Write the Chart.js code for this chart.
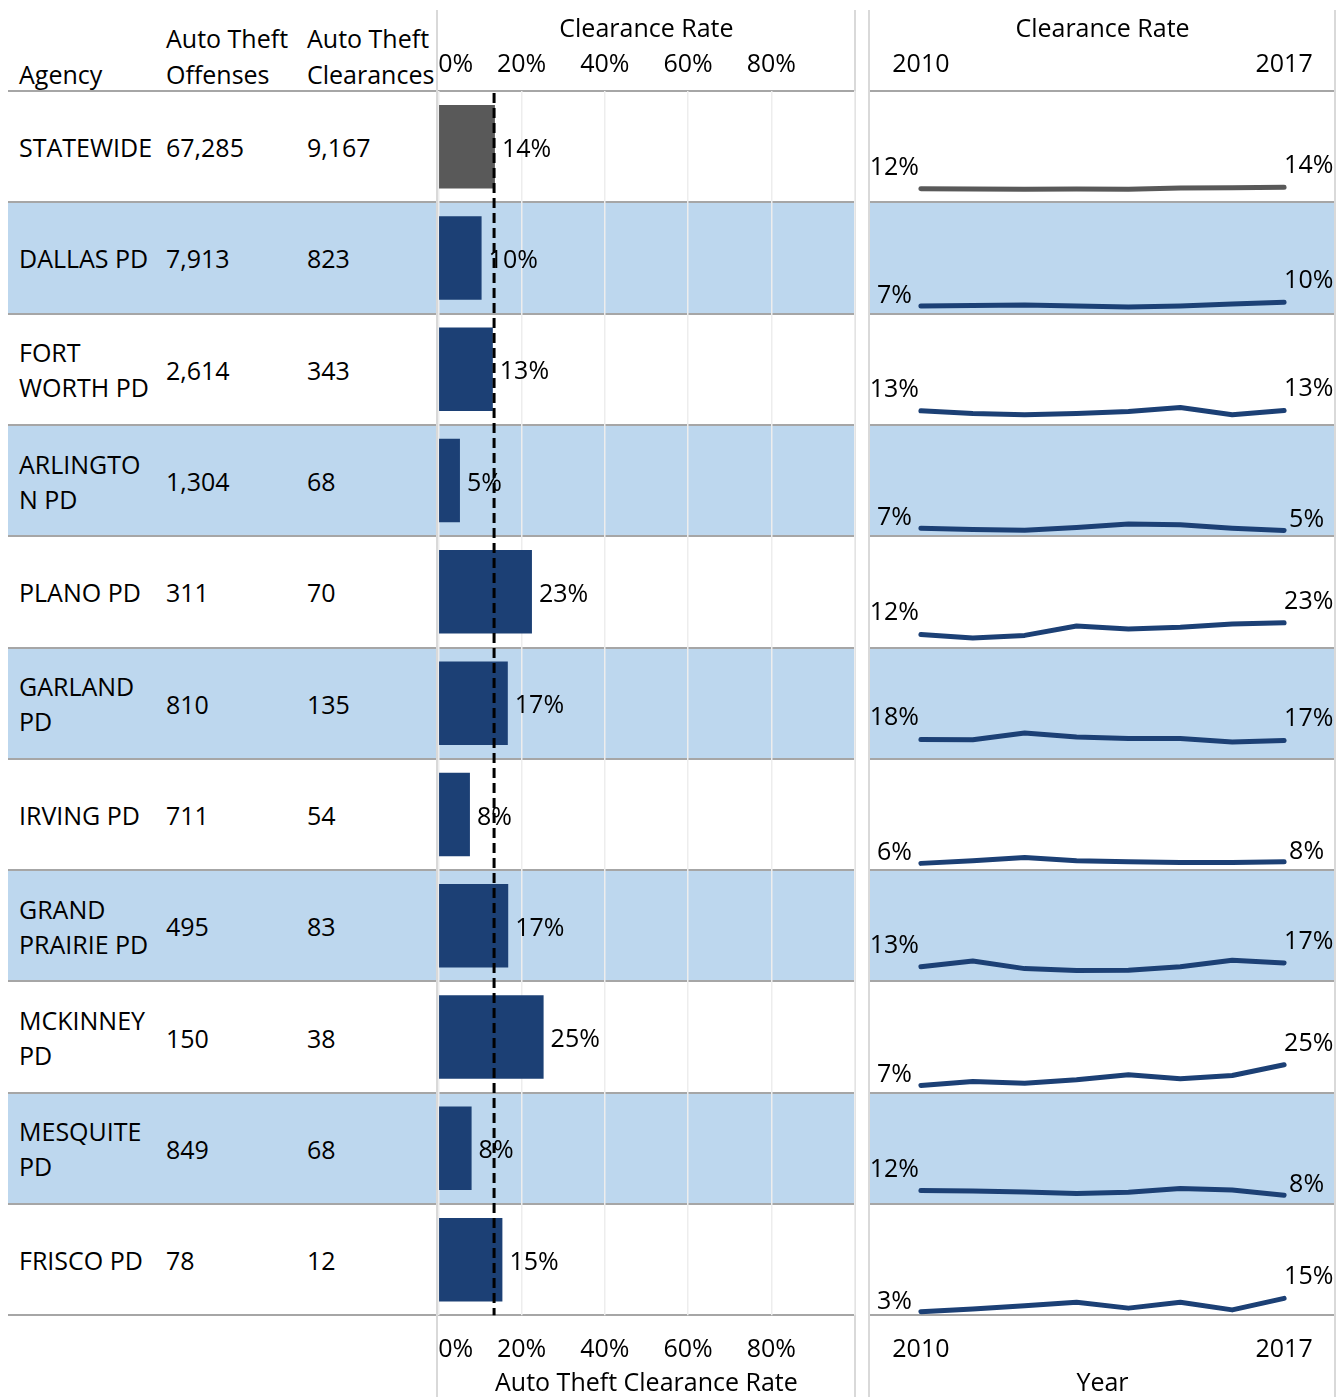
<!DOCTYPE html>
<html>
<head>
<meta charset="utf-8">
<script src="https://cdn.jsdelivr.net/npm/chart.js@4.4.1/dist/chart.umd.min.js"></script>
<style>
body{margin:0;background:#fff;font-family:"Open Sans",sans-serif;color:#000;}
#page{position:relative;width:1341px;height:1397px;overflow:hidden;}
.band{position:absolute;background:#bdd7ee;}
.hline{position:absolute;height:2px;background:#a6a6a6;}
.vline{position:absolute;width:2px;background:#d9d9d9;top:10px;bottom:0;}
.cell{position:absolute;display:flex;align-items:center;font-size:25px;line-height:35px;white-space:pre;padding-top:2px;box-sizing:border-box;}
.head{position:absolute;font-size:25px;line-height:36px;white-space:pre;}
.wrap{position:absolute;top:0;}
</style>
</head>
<body>
<div id="page">
  <div id="table"></div>
  <div class="wrap" style="left:418px;"><canvas id="barChart" width="457" height="1397"></canvas></div>
  <div class="wrap" style="left:869px;"><canvas id="trendChart" width="467" height="1397"></canvas></div>
</div>
<script>

/* ==========================================
   DATA
========================================== */

const agencies = [
    "STATEWIDE",
    "DALLAS PD",
    "FORT\nWORTH PD",
    "ARLINGTO\nN PD",
    "PLANO PD",
    "GARLAND\nPD",
    "IRVING PD",
    "GRAND\nPRAIRIE PD",
    "MCKINNEY\nPD",
    "MESQUITE\nPD",
    "FRISCO PD"
];

const offenses   = ["67,285","7,913","2,614","1,304","311","810","711","495","150","849","78"];
const clearances = ["9,167","823","343","68","70","135","54","83","38","68","12"];

// clearance rate (%) per agency
const clearanceRate = [13.6, 10.4, 13.1, 5.2, 22.5, 16.7, 7.6, 16.8, 25.3, 8.0, 15.4];
const statewideRate = 13.4;
const rateTicks = [0, 20, 40, 60, 80, 100];

const years = [2010, 2011, 2012, 2013, 2014, 2015, 2016, 2017];

// yearly clearance rate (%) 2010 -> 2017
const trendStatewide    = [12.4, 12.1, 11.8, 12.1, 11.8, 13.0, 13.3, 13.6];
const trendDallas       = [6.8, 7.4, 7.7, 6.8, 5.9, 6.8, 8.6, 10.4];
const trendFortWorth    = [12.8, 10.4, 9.2, 10.4, 12.2, 15.8, 9.2, 13.1];
const trendArlington    = [7.3, 6.1, 5.5, 7.9, 11.0, 10.4, 7.3, 5.2];
const trendPlano        = [11.9, 8.6, 11.0, 19.5, 16.7, 18.3, 21.3, 22.5];
const trendGarland      = [17.6, 17.3, 23.4, 19.7, 18.5, 18.5, 15.2, 16.7];
const trendIrving       = [6.1, 8.5, 11.5, 8.5, 7.6, 7.0, 7.0, 7.6];
const trendGrandPrairie = [13.3, 18.6, 11.6, 9.8, 10.1, 13.2, 19.2, 16.8];
const trendMcKinney     = [6.6, 10.2, 8.6, 11.7, 16.2, 12.6, 15.6, 25.3];
const trendMesquite     = [12.2, 11.9, 11.0, 9.5, 10.7, 14.0, 12.8, 8.0];
const trendFrisco       = [3.3, 5.8, 8.7, 11.9, 6.5, 11.9, 4.9, 15.4];

const trends = [
    trendStatewide, trendDallas, trendFortWorth, trendArlington, trendPlano,
    trendGarland, trendIrving, trendGrandPrairie, trendMcKinney, trendMesquite, trendFrisco
];

/* ==========================================
   LAYOUT / STYLE
========================================== */

const TOP = 91;
const ROW_H = 111.3;
const BOTTOM = TOP + ROW_H * agencies.length;
const PAGE_H = 1397;

const FONT = "'Open Sans', sans-serif";
const NAVY = "#1c4075";
const GREY = "#595959";

/* ==========================================
   TABLE (html)
========================================== */

function buildTable(){

    const t = document.getElementById("table");
    let html = "";

    agencies.forEach((name,i)=>{

        const y = TOP + i*ROW_H;

        if(i % 2 === 1){
            html += `<div class="band" style="left:8px;width:847px;top:${y}px;height:${ROW_H}px"></div>`;
            html += `<div class="band" style="left:869px;width:466px;top:${y}px;height:${ROW_H}px"></div>`;
        }

        html += `<div class="cell" style="left:19px;width:145px;top:${y}px;height:${ROW_H}px">${name}</div>`;
        html += `<div class="cell" style="left:166px;top:${y}px;height:${ROW_H}px">${offenses[i]}</div>`;
        html += `<div class="cell" style="left:307px;top:${y}px;height:${ROW_H}px">${clearances[i]}</div>`;

    });

    for(let i=0;i<=agencies.length;i++){
        const y = TOP + i*ROW_H - 1;
        html += `<div class="hline" style="left:8px;width:847px;top:${y}px"></div>`;
        html += `<div class="hline" style="left:869px;width:466px;top:${y}px"></div>`;
    }

    [436, 854, 868, 1334].forEach(x=>{
        html += `<div class="vline" style="left:${x}px"></div>`;
    });

    html += `<div class="head" style="left:19px;top:56px">Agency</div>`;
    html += `<div class="head" style="left:166px;top:20px">Auto Theft\nOffenses</div>`;
    html += `<div class="head" style="left:307px;top:20px">Auto Theft\nClearances</div>`;

    t.innerHTML = html;

}

buildTable();

/* ==========================================
   BAR CHART
========================================== */

const barLabels = {
    id:"barLabels",
    afterDatasetsDraw(chart){

        const ctx = chart.ctx;
        const meta = chart.getDatasetMeta(0);
        const xs = chart.scales.x;
        const area = chart.chartArea;

        ctx.save();
        ctx.font = `25px ${FONT}`;
        ctx.fillStyle = "#000";
        ctx.textAlign = "left";
        ctx.textBaseline = "middle";

        meta.data.forEach((bar,i)=>{
            ctx.fillText(Math.round(clearanceRate[i])+"%", bar.x+7, bar.y+3);
        });

        // statewide reference line
        const rx = xs.getPixelForValue(statewideRate);
        ctx.strokeStyle = "#000";
        ctx.lineWidth = 3;
        ctx.setLineDash([10,5]);
        ctx.beginPath();
        ctx.moveTo(rx, area.top+2);
        ctx.lineTo(rx, area.bottom);
        ctx.stroke();

        ctx.restore();
    }
};

const rateAxis = (position, title, grid, pad, titlePad, titleLH, height)=>({
    type:"linear",
    position,
    min:0,
    max:100,
    afterBuildTicks: a=>{ a.ticks = rateTicks.map(v=>({value:v})); },
    afterFit: s=>{ s.height = height; },
    ticks:{
        align:"inner",
        autoSkip:false,
        maxRotation:0,
        padding:pad,
        color:"#000",
        font:{family:FONT,size:25},
        callback: v => v === 100 ? "" : v+"%"
    },
    grid: grid ? {color:"#ededed", lineWidth:1.5, drawTicks:false} : {display:false, drawTicks:false},
    border:{display:false},
    title:{
        display:true,
        text:title,
        color:"#000",
        font:{family:FONT,size:25,lineHeight:titleLH},
        padding:titlePad
    }
});

new Chart(document.getElementById("barChart").getContext("2d"),{

    type:"bar",

    data:{
        labels: agencies.map(a=>a.replace("\n"," ")),
        datasets:[{
            data: clearanceRate,
            backgroundColor: clearanceRate.map((v,i)=> i===0 ? GREY : NAVY),
            barPercentage:0.75,
            categoryPercentage:1
        }]
    },

    options:{
        indexAxis:"y",
        responsive:false,
        animation:false,
        layout:{ padding:{left:20.3, right:20.5, top:0, bottom:0} },
        plugins:{ legend:{display:false}, tooltip:{enabled:false} },
        scales:{
            x: rateAxis("top", "Clearance Rate", true, 11, {top:15,bottom:0}, 1.2, TOP),
            x2: rateAxis("bottom", "Auto Theft Clearance Rate", false, 20, {top:0,bottom:0}, 1.06, PAGE_H-BOTTOM),
            y:{ display:false }
        }
    },

    plugins:[barLabels]

});

/* ==========================================
   TREND (SPARKLINES)
========================================== */

const trendLabels = {
    id:"trendLabels",
    afterDatasetsDraw(chart){

        const ctx = chart.ctx;

        ctx.save();
        ctx.font = `25px ${FONT}`;
        ctx.fillStyle = "#000";
        ctx.textBaseline = "alphabetic";

        chart.data.datasets.forEach((ds,i)=>{

            const pts = chart.getDatasetMeta(i).data;
            const first = pts[0];
            const last = pts[pts.length-1];

            const t1 = Math.round(ds.data[0].y)+"%";
            const t2 = Math.round(ds.data[ds.data.length-1].y)+"%";

            ctx.textAlign = "right";
            ctx.fillText(t1, first.x - (t1.length>2 ? 2 : 9), first.y - (t1.length>2 ? 14 : 3));

            ctx.textAlign = "left";
            ctx.fillText(t2, last.x + (t2.length>2 ? 0 : 5), last.y - (t2.length>2 ? 14 : 3));

        });

        ctx.restore();
    }
};

const yearAxis = (position, title, pad, titlePad, titleLH, height)=>({
    type:"linear",
    position,
    min: years[0]-1,
    max: years[years.length-1]+1,
    afterBuildTicks: a=>{ a.ticks = [years[0], years[years.length-1]].map(v=>({value:v})); },
    afterFit: s=>{ s.height = height; },
    ticks:{
        autoSkip:false,
        maxRotation:0,
        padding:pad,
        color:"#000",
        font:{family:FONT,size:25},
        callback: v => String(v)
    },
    grid:{display:false, drawTicks:false},
    border:{display:false},
    title:{
        display:true,
        text:title,
        color:"#000",
        font:{family:FONT,size:25,lineHeight:titleLH},
        padding:titlePad
    }
});

const trendScales = {
    x: yearAxis("top", "Clearance Rate", 11, {top:15,bottom:0}, 1.2, TOP),
    x2: yearAxis("bottom", "Year", 20, {top:0,bottom:0}, 1.06, PAGE_H-BOTTOM)
};

trends.forEach((t,i)=>{
    trendScales["y"+i] = {
        type:"linear",
        position:"right",
        stack:"rows",
        stackWeight:1,
        min:0,
        max:101,
        display:false
    };
});

new Chart(document.getElementById("trendChart").getContext("2d"),{

    type:"line",

    data:{
        datasets: trends.map((t,i)=>({
            label: agencies[i],
            data: years.map((yr,j)=>({x:yr, y:t[j]})),
            yAxisID: "y"+i,
            xAxisID: "x",
            borderColor: i===0 ? GREY : NAVY,
            borderWidth:5,
            borderCapStyle:"round",
            borderJoinStyle:"round",
            pointRadius:0,
            tension:0,
            fill:false
        }))
    },

    options:{
        responsive:false,
        animation:false,
        layout:{ padding:0 },
        plugins:{ legend:{display:false}, tooltip:{enabled:false} },
        scales: trendScales
    },

    plugins:[trendLabels]

});

</script>
</body>
</html>
